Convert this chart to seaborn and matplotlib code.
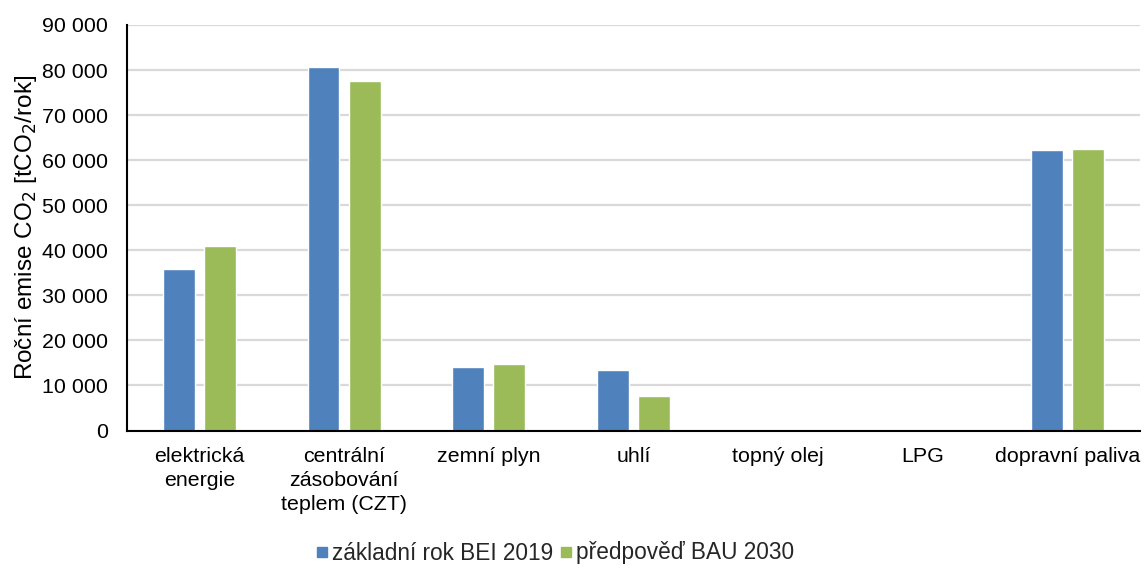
import matplotlib
matplotlib.use("Agg")
import matplotlib.pyplot as plt
import seaborn as sns
import pandas as pd
import numpy as np
from matplotlib.ticker import FuncFormatter, FixedLocator

categories = ["elektrická\nenergie", "centrální\nzásobování\nteplem (CZT)", "zemní plyn",
              "uhlí", "topný olej", "LPG", "dopravní paliva"]
series_names = ["základní rok BEI 2019", "předpověď BAU 2030"]
bei_2019 = [35800, 80600, 14100, 13400, 0, 0, 62150]
bau_2030 = [41000, 77600, 14700, 7600, 0, 0, 62370]
colors = ["#4f81bd", "#9bbb59"]

df = pd.DataFrame({
    "kategorie": categories * 2,
    "řada": [series_names[0]] * len(categories) + [series_names[1]] * len(categories),
    "hodnota": bei_2019 + bau_2030,
})

sns.set_theme(style="white")
plt.rcParams["font.family"] = ["Liberation Sans", "DejaVu Sans"]

fig = plt.figure(figsize=(11.45, 5.68), dpi=100)
ax = fig.add_axes([127 / 1145, 1 - 430.5 / 568, (1140 - 127) / 1145, (430.5 - 25) / 568])

sns.barplot(data=df, x="kategorie", y="hodnota", hue="řada", order=categories,
            hue_order=series_names, palette=colors, width=0.567, gap=0.224,
            saturation=1, ax=ax, legend=False, errorbar=None)

ax.set_ylim(0, 90000)
ax.set_xlim(-0.5, len(categories) - 0.5)
ax.set_yticks(np.arange(0, 90001, 10000))
ax.yaxis.set_major_formatter(FuncFormatter(lambda v, p: f"{int(v):,}".replace(",", " ")))
ax.yaxis.grid(True, color="#d9d9d9", linewidth=1.6)
ax.set_axisbelow(True)
ax.tick_params(axis="y", length=0, labelsize=15.4, pad=13.7, colors="black")

# category names drawn below the axis with explicit line spacing
ax.tick_params(axis="x", which="major", length=0, labelbottom=False)
for i, name in enumerate(categories):
    ax.annotate(name, xy=(i, 0), xycoords=("data", "axes fraction"),
                xytext=(0, -12), textcoords="offset points", ha="center", va="top",
                fontsize=15.4, linespacing=1.32, color="black")
ax.xaxis.set_minor_locator(FixedLocator(np.arange(-0.5, len(categories), 1.0)))
ax.tick_params(axis="x", which="minor", length=10, width=1.5, direction="inout", color="black")

for side in ["top", "right"]:
    ax.spines[side].set_visible(False)
for side in ["left", "bottom"]:
    ax.spines[side].set_visible(True)
    ax.spines[side].set_color("black")
    ax.spines[side].set_linewidth(1.5)

ax.set_xlabel("")
ax.set_ylabel("Roční emise CO$_2$ [tCO$_2$/rok]", fontsize=17.5, labelpad=2.4, color="black")

handles = [plt.Line2D([], [], marker="s", linestyle="", markersize=7.5, color=c) for c in colors]
fig.legend(handles, series_names, loc="center", bbox_to_anchor=(555 / 1145, 1 - 553 / 568),
           ncol=2, frameon=False, fontsize=16.3, handletextpad=0.2, columnspacing=0.3,
           handlelength=0.5)

fig.savefig("out.png", dpi=100)
